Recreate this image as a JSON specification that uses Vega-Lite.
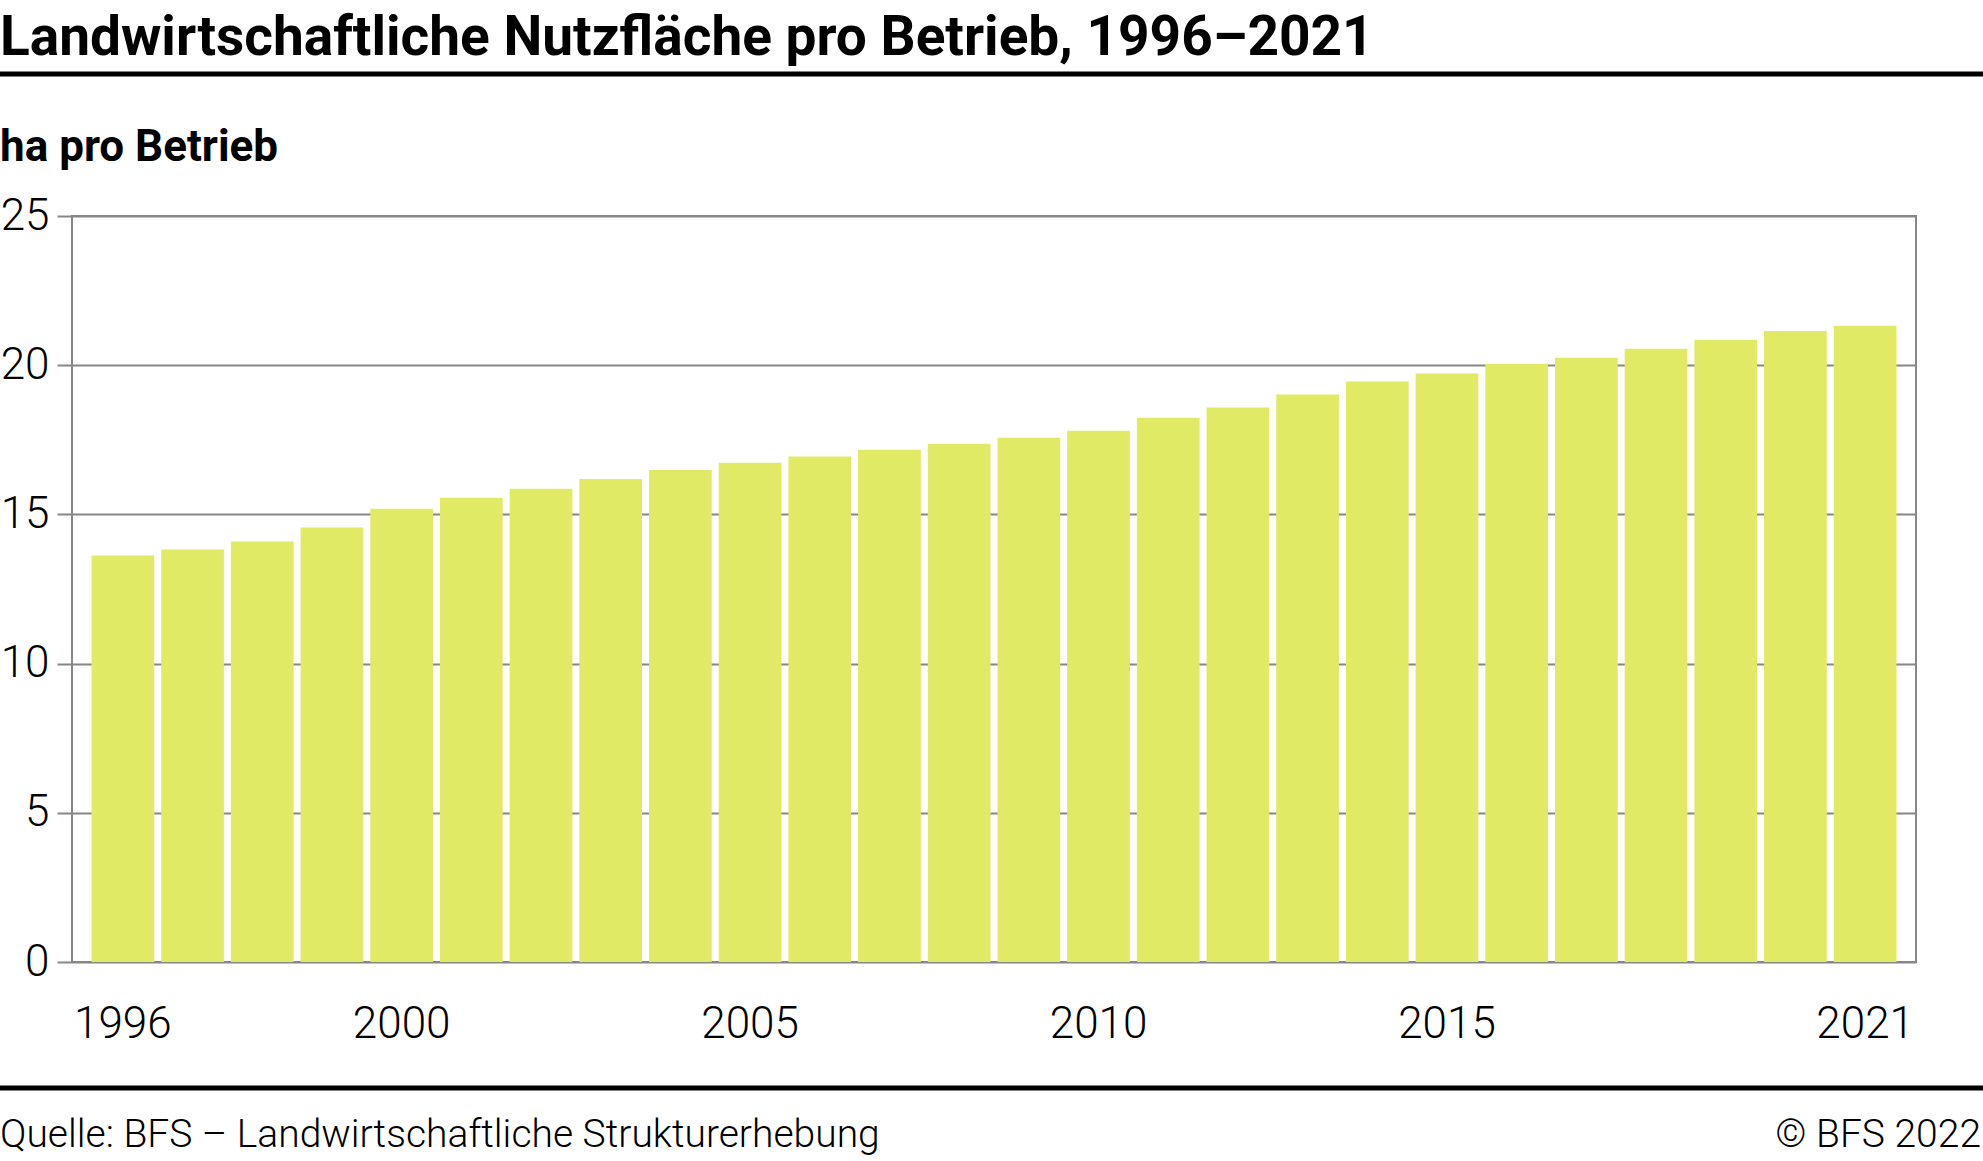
{
  "$schema": "https://vega.github.io/schema/vega-lite/v6.json",
  "width": 1844,
  "height": 746,
  "autosize": {"type": "none"},
  "padding": {"left": 72, "top": 216, "right": 67, "bottom": 199},
  "background": "white",
  "title": {
    "text": "Landwirtschaftliche Nutzfläche pro Betrieb, 1996–2021",
    "subtitle": "ha pro Betrieb",
    "anchor": "start",
    "frame": "group",
    "dx": -72,
    "offset": -100,
    "font": "Roboto",
    "fontSize": 55,
    "fontWeight": 700,
    "color": "#000000",
    "subtitleFont": "Roboto",
    "subtitleFontSize": 44,
    "subtitleFontWeight": 700,
    "subtitleColor": "#000000",
    "subtitlePadding": 59
  },
  "config": {
    "view": {"stroke": "#878787", "strokeWidth": 2},
    "font": "Roboto"
  },
  "resolve": {"scale": {"x": "independent"}},
  "layer": [
    {
      "data": {
        "values": [
          {"Jahr": "1996", "ha": 13.62},
          {"Jahr": "1997", "ha": 13.82},
          {"Jahr": "1998", "ha": 14.09},
          {"Jahr": "1999", "ha": 14.56},
          {"Jahr": "2000", "ha": 15.19},
          {"Jahr": "2001", "ha": 15.56},
          {"Jahr": "2002", "ha": 15.86},
          {"Jahr": "2003", "ha": 16.19},
          {"Jahr": "2004", "ha": 16.49},
          {"Jahr": "2005", "ha": 16.73},
          {"Jahr": "2006", "ha": 16.94},
          {"Jahr": "2007", "ha": 17.17},
          {"Jahr": "2008", "ha": 17.37},
          {"Jahr": "2009", "ha": 17.57},
          {"Jahr": "2010", "ha": 17.8},
          {"Jahr": "2011", "ha": 18.24},
          {"Jahr": "2012", "ha": 18.58},
          {"Jahr": "2013", "ha": 19.02},
          {"Jahr": "2014", "ha": 19.45},
          {"Jahr": "2015", "ha": 19.72},
          {"Jahr": "2016", "ha": 20.05},
          {"Jahr": "2017", "ha": 20.25},
          {"Jahr": "2018", "ha": 20.55},
          {"Jahr": "2019", "ha": 20.85},
          {"Jahr": "2020", "ha": 21.15},
          {"Jahr": "2021", "ha": 21.32}
        ]
      },
      "mark": {"type": "bar", "color": "#e1ea64"},
      "encoding": {
        "x": {
          "field": "Jahr",
          "type": "ordinal",
          "scale": {"paddingInner": 0.1, "paddingOuter": 0.28},
          "axis": {
            "title": null,
            "labelAngle": 0,
            "ticks": false,
            "tickSize": 0,
            "domain": false,
            "labelOverlap": false,
            "labelPadding": 40,
            "labelFont": "Roboto",
            "labelFontSize": 44,
            "labelFontWeight": 300,
            "labelColor": "#000000",
            "labelExpr": "indexof(['1996','2000','2005','2010','2015','2021'], datum.label) >= 0 ? datum.label : ''"
          }
        },
        "y": {
          "field": "ha",
          "type": "quantitative",
          "scale": {"domain": [0, 25], "nice": false, "zero": true},
          "axis": {
            "title": null,
            "values": [0, 5, 10, 15, 20, 25],
            "grid": true,
            "gridColor": "#878787",
            "gridWidth": 2,
            "domain": false,
            "ticks": true,
            "tickSize": 15,
            "tickColor": "#878787",
            "tickWidth": 2,
            "labelPadding": 8,
            "labelFont": "Roboto",
            "labelFontSize": 44,
            "labelFontWeight": 300,
            "labelColor": "#000000"
          }
        }
      }
    },
    {
      "data": {"values": [{"Linie": "oben", "yv": 29.76}, {"Linie": "unten", "yv": -4.22}]},
      "mark": {"type": "rule", "color": "#000000", "strokeWidth": 5},
      "encoding": {
        "x": {"datum": 0, "type": "quantitative", "scale": {"domain": [0, 1], "range": [-72, 1911]}, "axis": null},
        "x2": {"datum": 1},
        "y": {"field": "yv", "type": "quantitative"}
      }
    },
    {
      "data": {"values": [{"Text": "Quelle: BFS – Landwirtschaftliche Strukturerhebung", "yv": -6.19}]},
      "mark": {"type": "text", "align": "left", "baseline": "alphabetic", "font": "Roboto", "fontSize": 39, "fontWeight": 300, "color": "#000000"},
      "encoding": {
        "x": {"datum": 0, "type": "quantitative", "scale": {"domain": [0, 1], "range": [-72, 1911]}, "axis": null},
        "y": {"field": "yv", "type": "quantitative"},
        "text": {"field": "Text"}
      }
    },
    {
      "data": {"values": [{"Text": "© BFS 2022", "yv": -6.19}]},
      "mark": {"type": "text", "align": "right", "baseline": "alphabetic", "font": "Roboto", "fontSize": 39, "fontWeight": 300, "color": "#000000"},
      "encoding": {
        "x": {"datum": 0.999, "type": "quantitative", "scale": {"domain": [0, 1], "range": [-72, 1911]}, "axis": null},
        "y": {"field": "yv", "type": "quantitative"},
        "text": {"field": "Text"}
      }
    }
  ]
}
